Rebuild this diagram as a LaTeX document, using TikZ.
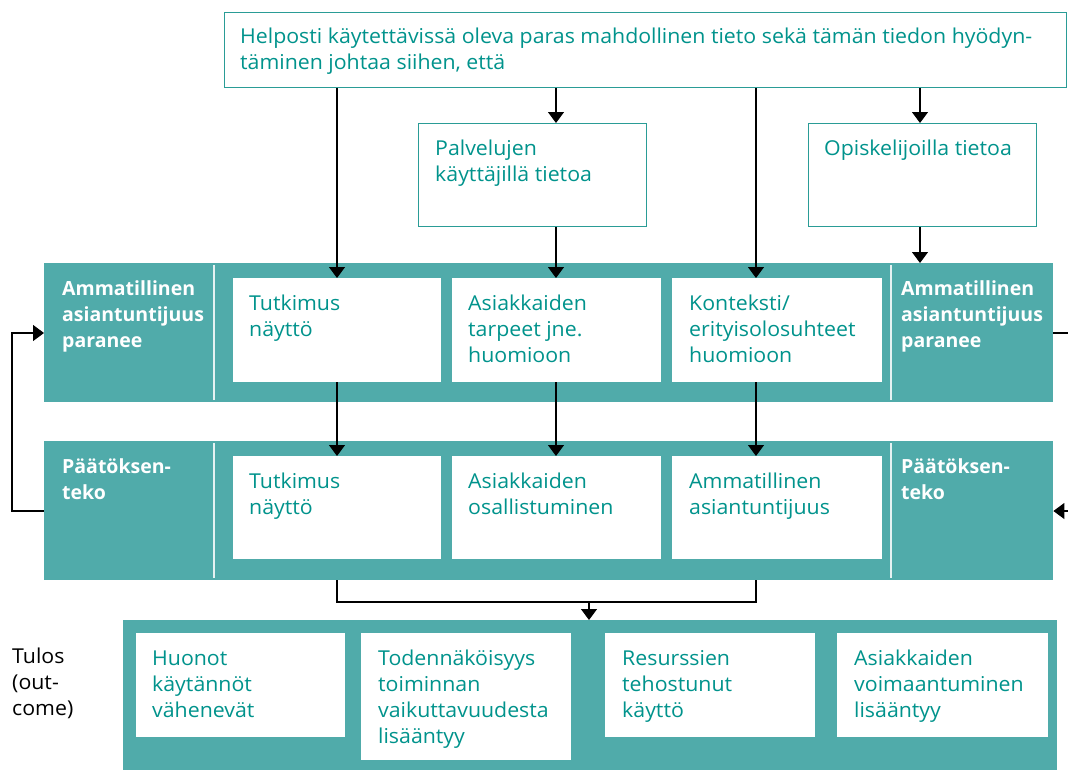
\documentclass[tikz,border=0pt]{standalone}
\usepackage{fontspec}
\setmainfont{Open Sans}
\newfontfamily\regfont[FakeStretch=1.04]{Open Sans}
\usetikzlibrary{arrows.meta,calc}
\definecolor{band}{HTML}{50ABAA}
\definecolor{tealtext}{HTML}{00938C}
\definecolor{tealline}{HTML}{2A9C96}
\begin{document}
\begin{tikzpicture}[x=1pt,y=-1pt,
  band/.style={fill=band, draw=none, inner sep=0, anchor=north west},
  wbox/.style={fill=white, draw=none, inner sep=0, anchor=north west},
  obox/.style={fill=white, draw=tealline, line width=1.4pt, inner sep=0, anchor=north west},
  txt/.style={text=tealtext, font=\regfont\fontsize{20.5}{26}\selectfont, align=left, inner sep=0, anchor=base west},
  wtxt/.style={text=white, font=\bfseries\fontsize{19.5}{26}\selectfont, align=left, inner sep=0, anchor=base west},
  btxt/.style={text=black, font=\regfont\fontsize{20.5}{26}\selectfont, align=left, inner sep=0, anchor=base west},
  divider/.style={draw=white!85!band, line width=1.5pt},
  conn/.style={draw=black, line width=1.1pt},
  arr/.style={conn, -{Triangle[width=16pt,length=11pt]}}
]
\useasboundingbox (0,0) rectangle (1068,769);

% top-level boxes
\node[obox, minimum width=842pt, minimum height=75pt] (top) at (224,12) {};
\node[obox, minimum width=228pt, minimum height=103pt] (palv) at (418,123) {};
\node[obox, minimum width=228pt, minimum height=103pt] (opis) at (808,123) {};

% bands
\node[band, minimum width=1009pt, minimum height=139pt] (band1) at (44,263) {};
\node[band, minimum width=1009pt, minimum height=139pt] (band2) at (44,441) {};
\node[band, minimum width=934pt, minimum height=150pt] (band3) at (123,620) {};

% dividers
\draw[divider] (214,265) -- (214,400);
\draw[divider] (891,265) -- (891,400);
\draw[divider] (214,443) -- (214,578);
\draw[divider] (891,443) -- (891,578);

% row 1 white boxes
\node[wbox, minimum width=208pt, minimum height=104pt] (r1a) at (233,278) {};
\node[wbox, minimum width=209pt, minimum height=104pt] (r1b) at (452,278) {};
\node[wbox, minimum width=210pt, minimum height=104pt] (r1c) at (672,278) {};
% row 2 white boxes
\node[wbox, minimum width=208pt, minimum height=103pt] (r2a) at (233,456) {};
\node[wbox, minimum width=209pt, minimum height=103pt] (r2b) at (452,456) {};
\node[wbox, minimum width=210pt, minimum height=103pt] (r2c) at (672,456) {};
% row 3 white boxes
\node[wbox, minimum width=209pt, minimum height=104pt] (r3a) at (136,633) {};
\node[wbox, minimum width=210pt, minimum height=127pt] (r3b) at (361,633) {};
\node[wbox, minimum width=210pt, minimum height=104pt] (r3c) at (605,633) {};
\node[wbox, minimum width=211pt, minimum height=104pt] (r3d) at (837,633) {};

% texts (anchor = baseline of last line)
\node[txt] (topt) at (240,69) {Helposti käytettävissä oleva paras mahdollinen tieto sekä tämän tiedon hyödyn-\\täminen johtaa siihen, että};
\node[txt] (palvt) at (435,181) {Palvelujen\\käyttäjillä tietoa};
\node[txt] (opist) at (824,155) {Opiskelijoilla tietoa};

\node[wtxt] (l1) at (62,347) {Ammatillinen\\asiantuntijuus\\paranee};
\node[wtxt] (rr1) at (901,347) {Ammatillinen\\asiantuntijuus\\paranee};
\node[wtxt] (l2) at (62,499) {Päätöksen-\\teko};
\node[wtxt] (rr2) at (901,499) {Päätöksen-\\teko};

\node[txt] (r1at) at (249,336) {Tutkimus\\näyttö};
\node[txt] (r1bt) at (468,362) {Asiakkaiden\\tarpeet jne.\\huomioon};
\node[txt] (r1ct) at (689,362) {Konteksti/\\erityisolosuhteet\\huomioon};

\node[txt] (r2at) at (249,514) {Tutkimus\\näyttö};
\node[txt] (r2bt) at (468,514) {Asiakkaiden\\osallistuminen};
\node[txt] (r2ct) at (689,514) {Ammatillinen\\asiantuntijuus};

\node[txt] (r3at) at (152,717) {Huonot\\käytännöt\\vähenevät};
\node[txt] (r3bt) at (378,743) {Todennäköisyys\\toiminnan\\vaikuttavuudesta\\lisääntyy};
\node[txt] (r3ct) at (622,717) {Resurssien\\tehostunut\\käyttö};
\node[txt] (r3dt) at (854,717) {Asiakkaiden\\voimaantuminen\\lisääntyy};

\node[btxt] (tulos) at (12,715) {Tulos\\(out-\\come)};

% connector x positions
\coordinate (x1) at (337,0);
\coordinate (x2) at (556,0);
\coordinate (x3) at (756,0);
\coordinate (x4) at (920,0);
\coordinate (x5) at (589,0);
\coordinate (yb) at (0,602);
\coordinate (yl) at (12,0);
\coordinate (ytop) at (0,333);
\coordinate (ybot) at (0,511);
\coordinate (rin) at (1068,511);
\coordinate (rout) at (1068,333);

% top to row 1
\draw[arr] (top.south -| x1) -- (r1a.north -| x1);
\draw[arr] (top.south -| x2) -- (palv.north -| x2);
\draw[arr] (top.south -| x3) -- (r1c.north -| x3);
\draw[arr] (top.south -| x4) -- (opis.north -| x4);
\draw[arr] (palv.south -| x2) -- (r1b.north -| x2);
\draw[arr] (opis.south -| x4) -- (band1.north -| x4);

% row 1 to row 2
\draw[arr] (r1a.south -| x1) -- (r2a.north -| x1);
\draw[arr] (r1b.south -| x2) -- (r2b.north -| x2);
\draw[arr] (r1c.south -| x3) -- (r2c.north -| x3);

% row 2 to outcome
\draw[conn] (band2.south -| x1) -- (x1 |- yb) -- (x3 |- yb) -- (band2.south -| x3);
\draw[arr] (x5 |- yb) -- (band3.north -| x5);

% feedback loops
\draw[arr] (band2.west |- ybot) -- (yl |- ybot) -- (yl |- ytop) -- (band1.west |- ytop);
\draw[conn] (band1.east |- rout) -- (rout);
\draw[arr] (rin) -- (band2.east |- rin);
\end{tikzpicture}
\end{document}
